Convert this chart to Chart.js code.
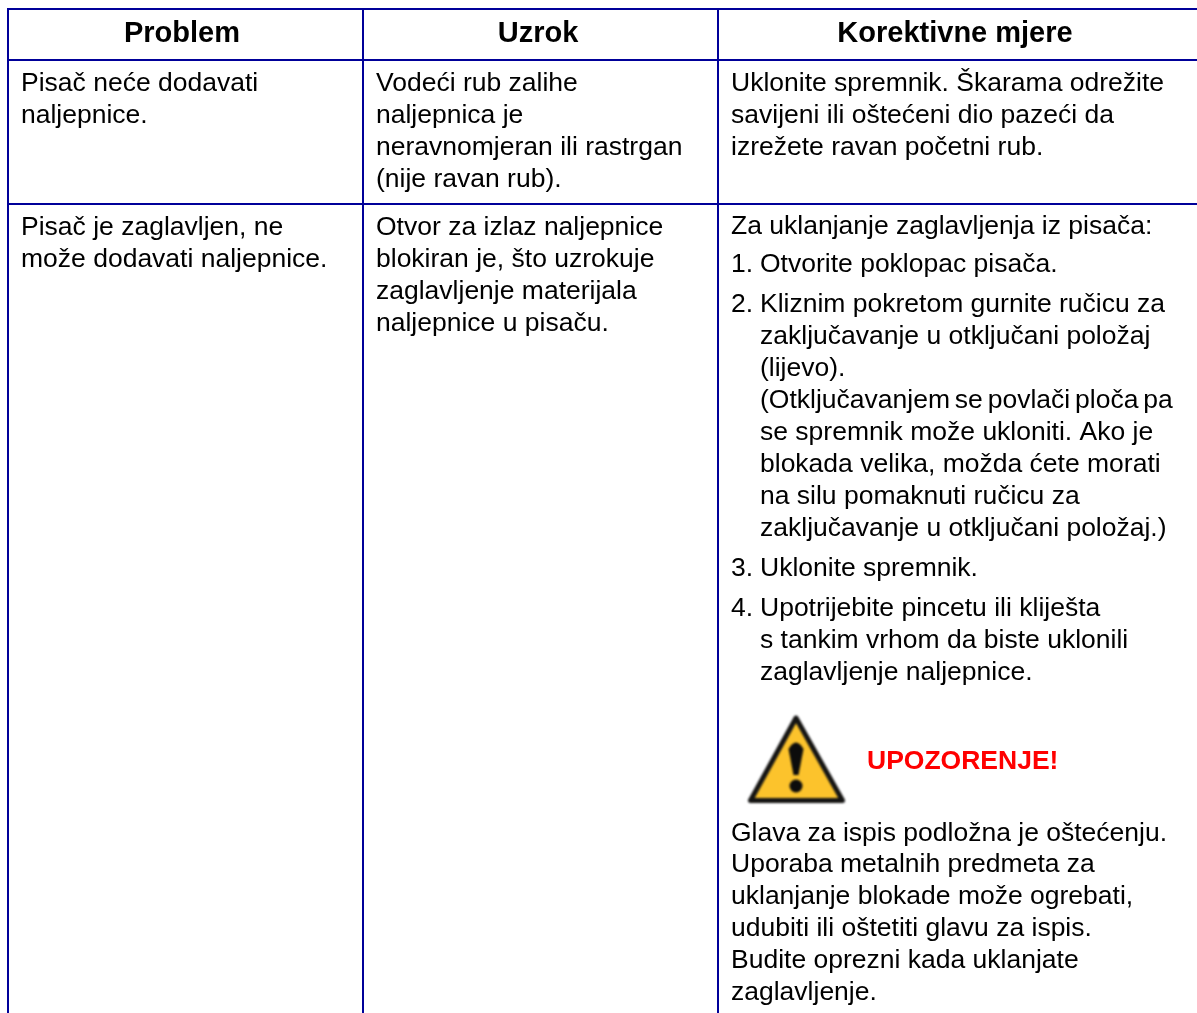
<!DOCTYPE html>
<html>
<head>
<meta charset="utf-8">
<title>Problem / Uzrok / Korektivne mjere</title>
<script src="https://cdn.jsdelivr.net/npm/chart.js@4"></script>
<style>
    html, body { margin: 0; padding: 0; background: #fff; }
    canvas { display: block; }
</style>
</head>
<body>
<canvas id="tableChart" width="1197" height="1013"></canvas>
<script>
// table text
const headers = ['Problem', 'Uzrok', 'Korektivne mjere'];
const problemLines = ['Pisač neće dodavati', 'naljepnice.', 'Pisač je zaglavljen, ne', 'može dodavati naljepnice.'];
const causeLines = ['Vodeći rub zalihe', 'naljepnica je', 'neravnomjeran ili rastrgan', '(nije ravan rub).',
    'Otvor za izlaz naljepnice', 'blokiran je, što uzrokuje', 'zaglavljenje materijala', 'naljepnice u pisaču.'];
const actionLines = ['Uklonite spremnik. Škarama odrežite', 'savijeni ili oštećeni dio pazeći da', 'izrežete ravan početni rub.',
    'Za uklanjanje zaglavljenja iz pisača:', '1.', '2.', '3.', '4.',
    'Glava za ispis podložna je oštećenju.', 'Uporaba metalnih predmeta za', 'uklanjanje blokade može ogrebati,',
    'udubiti ili oštetiti glavu za ispis.', 'Budite oprezni kada uklanjate', 'zaglavljenje.'];
const stepLines = ['Otvorite poklopac pisača.', 'Kliznim pokretom gurnite ručicu za', 'zaključavanje u otključani položaj', '(lijevo).',
    'se spremnik može ukloniti. Ako je', 'blokada velika, možda ćete morati', 'na silu pomaknuti ručicu za',
    'zaključavanje u otključani položaj.)', 'Uklonite spremnik.', 'Upotrijebite pincetu ili kliješta', 's tankim vrhom da biste uklonili', 'zaglavljenje naljepnice.'];
const tightLine = ['(Otključavanjem se povlači ploča pa'];
const warningLabel = ['UPOZORENJE!'];

// text baselines
const headerBaselines = [42, 42, 42];
const problemBaselines = [91, 123, 235, 267];
const causeBaselines = [91, 123, 155, 187, 235, 267, 299, 331];
const actionBaselines = [91, 123, 155, 234, 272, 312, 576, 616, 841, 872, 904, 936, 968, 1000];
const stepBaselines = [272, 312, 344, 376, 440, 472, 504, 536, 576, 616, 648, 680];
const tightBaselines = [408];

// table rules
const columnEdges = [8, 363, 718];
const rowEdges = [9, 60, 204];
const headerCentres = [182, 538, 955];

const ruleColor = '#000099';
const fontFamily = '"Liberation Sans", Arial, sans-serif';
const bodyFont = '400 26.5px ' + fontFamily;
const headerFont = '700 29px ' + fontFamily;
const warningFont = '700 26.5px ' + fontFamily;

function warningIcon() {
    const c = document.createElement('canvas');
    c.width = 120;
    c.height = 110;
    const g = c.getContext('2d');
    g.filter = 'blur(0.8px)';
    // triangle
    g.beginPath();
    g.moveTo(60, 14);
    g.lineTo(14.5, 96.5);
    g.lineTo(106.5, 96.5);
    g.closePath();
    g.lineJoin = 'round';
    g.lineWidth = 5;
    g.strokeStyle = '#141414';
    g.fillStyle = '#fcc32c';
    g.fill();
    g.stroke();
    // exclamation mark
    g.fillStyle = '#0c0c0c';
    g.beginPath();
    g.moveTo(52.5, 45);
    g.quadraticCurveTo(60, 32, 67.5, 45);
    g.lineTo(62.5, 71);
    g.lineTo(57.5, 71);
    g.closePath();
    g.fill();
    g.beginPath();
    g.arc(60, 82, 6.5, 0, Math.PI * 2);
    g.fill();
    return c;
}

function textSet(lines, xs, ys, font, color, align, wordSpacing) {
    return {
        data: lines.map((s, i) => ({ x: Array.isArray(xs) ? xs[i] : xs, y: ys[i] })),
        lines: lines,
        font: font,
        color: color,
        align: align,
        wordSpacing: wordSpacing || '0px',
        pointRadius: 0
    };
}

// writes each dataset's lines at the point the scales gave it
const cellText = {
    id: 'cellText',
    afterDatasetsDraw(chart) {
        const ctx = chart.ctx;
        chart.data.datasets.forEach((ds, i) => {
            if (!ds.lines) return;
            ctx.save();
            ctx.font = ds.font;
            ctx.fillStyle = ds.color;
            ctx.textAlign = ds.align;
            ctx.textBaseline = 'alphabetic';
            ctx.wordSpacing = ds.wordSpacing;
            chart.getDatasetMeta(i).data.forEach((pt, j) => {
                ctx.fillText(ds.lines[j], pt.x, pt.y);
            });
            ctx.restore();
        });
    }
};

new Chart(document.getElementById('tableChart'), {
    type: 'scatter',
    data: {
        datasets: [
            textSet(headers, headerCentres, headerBaselines, headerFont, '#000', 'center'),
            textSet(problemLines, 21, problemBaselines, bodyFont, '#000', 'left'),
            textSet(causeLines, 376, causeBaselines, bodyFont, '#000', 'left'),
            textSet(actionLines, 731, actionBaselines, bodyFont, '#000', 'left'),
            textSet(stepLines, 760, stepBaselines, bodyFont, '#000', 'left'),
            textSet(tightLine, 760, tightBaselines, bodyFont, '#000', 'left', '-2.5px'),
            textSet(warningLabel, 867, [769], warningFont, '#ff0000', 'left'),
            { data: [{ x: 796, y: 759 }], pointStyle: warningIcon(), pointRadius: 10 }
        ]
    },
    plugins: [cellText],
    options: {
        responsive: false,
        animation: false,
        devicePixelRatio: 1,
        layout: { autoPadding: false, padding: { left: 7, top: 8 } },
        plugins: { legend: { display: false }, tooltip: { enabled: false } },
        scales: {
            x: {
                type: 'linear',
                min: 7,
                max: 1197,
                ticks: { display: false },
                border: { display: false },
                grid: { color: ruleColor, lineWidth: 2, drawTicks: false },
                afterBuildTicks: scale => { scale.ticks = columnEdges.map(v => ({ value: v })); }
            },
            y: {
                type: 'linear',
                reverse: true,
                min: 8,
                max: 1013,
                ticks: { display: false },
                border: { display: false },
                grid: { color: ruleColor, lineWidth: 2, drawTicks: false },
                afterBuildTicks: scale => { scale.ticks = rowEdges.map(v => ({ value: v })); }
            }
        }
    }
});
</script>
</body>
</html>
